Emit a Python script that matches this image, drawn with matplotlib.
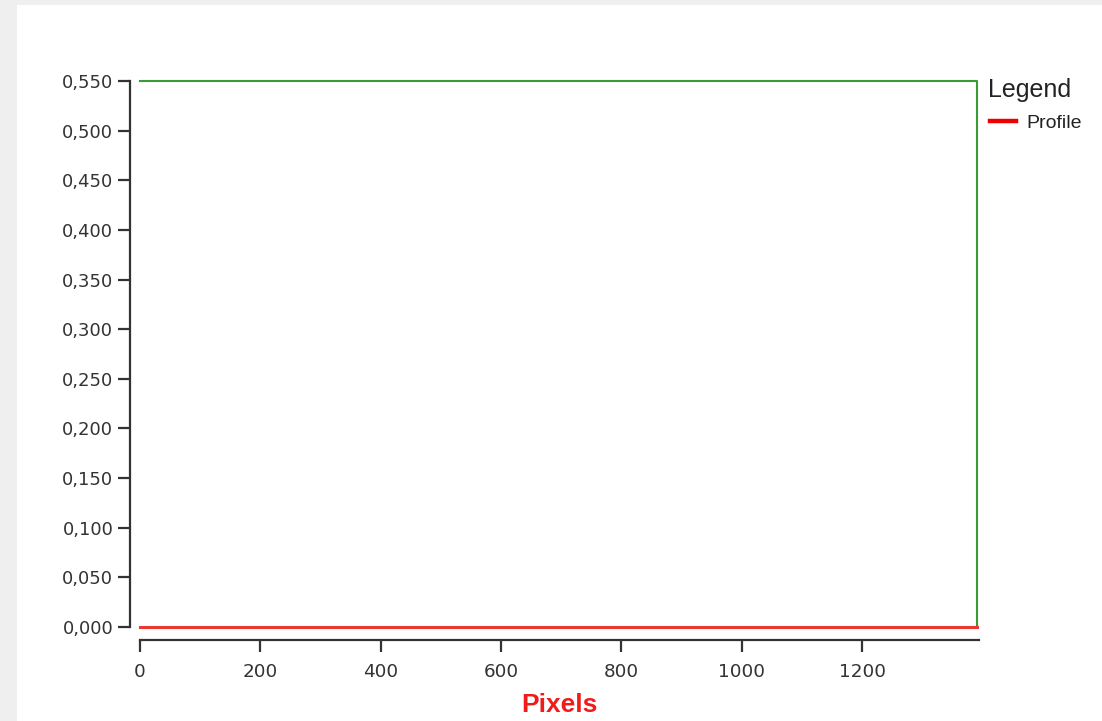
import matplotlib.pyplot as plt
from matplotlib.patches import Rectangle

# profile data (all zero along the line)
profile_x = [0, 1391]
profile_y = [0.0, 0.0]

# green selection outline
frame_x = [0, 1391, 1391]
frame_y = [0.55, 0.55, 0.0]

y_ticks = [0.0, 0.05, 0.10, 0.15, 0.20, 0.25, 0.30, 0.35, 0.40, 0.45, 0.50, 0.55]
y_labels = ["0,000", "0,050", "0,100", "0,150", "0,200", "0,250",
            "0,300", "0,350", "0,400", "0,450", "0,500", "0,550"]
x_ticks = [0, 200, 400, 600, 800, 1000, 1200]
x_labels = ["0", "200", "400", "600", "800", "1000", "1200"]

W, H = 1102, 721
fig = plt.figure(figsize=(W / 100, H / 100), dpi=100, facecolor="#efefef")
# white panel inside the grey border
fig.patches.append(Rectangle((17 / W, 0), 1 - 17 / W, (H - 5) / H,
                             transform=fig.transFigure, facecolor="white",
                             edgecolor="none", zorder=-10))

ax = fig.add_axes([140 / W, (H - 627) / H, (979 - 140) / W, (627 - 81) / H])
ax.set_facecolor("none")
ax.set_zorder(1)

ax.plot(frame_x, frame_y, color="#3c9a35", lw=1.5, clip_on=False, zorder=2)
ax.plot(profile_x, profile_y, color="#e83a33", lw=2.2, clip_on=False, zorder=3)

ax.set_xlim(0, 1394)
ax.set_ylim(0, 0.55)

for s in ["top", "right"]:
    ax.spines[s].set_visible(False)
ax.spines["left"].set_position(("outward", 7.2))
ax.spines["bottom"].set_position(("outward", 9.4))
for s in ["left", "bottom"]:
    ax.spines[s].set_color("#333333")
    ax.spines[s].set_linewidth(1.6)

ax.set_yticks(y_ticks)
ax.set_yticklabels(y_labels)
ax.set_xticks(x_ticks)
ax.set_xticklabels(x_labels)
ax.tick_params(axis="y", length=9, width=1.6, color="#333333", pad=3,
               labelsize=13, labelcolor="#333333")
ax.tick_params(axis="x", length=8.5, width=1.6, color="#333333", pad=8,
               labelsize=13.2, labelcolor="#333333")
for lab in ax.get_xticklabels() + ax.get_yticklabels():
    lab.set_family("DejaVu Sans")

ax.set_xlabel("Pixels", color="#f01c1c", fontsize=19, fontweight="bold",
              family=["Liberation Sans", "DejaVu Sans"], labelpad=9)

# legend drawn as plain text and a line sample
fig.text(988 / W, 1 - 97 / H, "Legend", fontsize=18, color="#222222",
         family=["Liberation Sans", "DejaVu Sans"], va="baseline", ha="left")
fig.add_artist(plt.Line2D([990 / W, 1016 / W], [1 - 121 / H, 1 - 121 / H],
                          transform=fig.transFigure, color="#ee0000", lw=3.2))
fig.text(1026 / W, 1 - 128 / H, "Profile", fontsize=14, color="#222222",
         family=["Liberation Sans", "DejaVu Sans"], va="baseline", ha="left")

fig.savefig("out.png", dpi=100, facecolor=fig.get_facecolor())
